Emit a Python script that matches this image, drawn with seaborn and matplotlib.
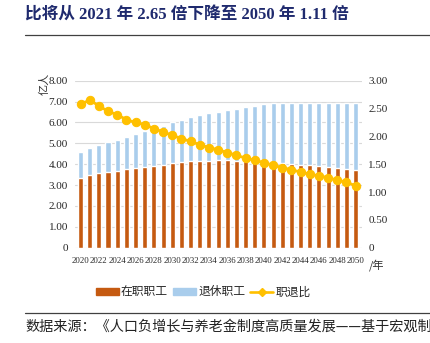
import numpy as np
import pandas as pd
import matplotlib
matplotlib.use("Agg")
import matplotlib.pyplot as plt
import seaborn as sns
from matplotlib.patches import Patch
from matplotlib.lines import Line2D

years = list(range(2020, 2051))
in_service = [3.32, 3.50, 3.56, 3.62, 3.68, 3.75, 3.81, 3.87, 3.93, 3.98, 4.04,
              4.11, 4.15, 4.16, 4.17, 4.18, 4.18, 4.16, 4.14, 4.10, 4.05,
              4.07, 4.04, 4.01, 3.98, 3.95, 3.91, 3.87, 3.82, 3.78, 3.70]
total = [4.58, 4.80, 4.91, 5.04, 5.18, 5.31, 5.47, 5.59, 5.72, 5.85, 6.00,
         6.13, 6.27, 6.36, 6.43, 6.51, 6.59, 6.66, 6.74, 6.80, 6.86,
         6.91, 6.94, 6.95, 6.95, 6.95, 6.95, 6.95, 6.95, 6.95, 6.95]
ratio = [2.58, 2.65, 2.55, 2.45, 2.39, 2.30, 2.25, 2.21, 2.14, 2.08, 2.02,
         1.96, 1.91, 1.85, 1.80, 1.76, 1.71, 1.66, 1.61, 1.57, 1.53,
         1.48, 1.44, 1.40, 1.36, 1.32, 1.29, 1.26, 1.21, 1.18, 1.11]
left_ticks = [0, 1, 2, 3, 4, 5, 6, 7, 8]
left_labels = ["0", "1.00", "2.00", "3.00", "4.00", "5.00", "6.00", "7.00", "8.00"]
right_ticks = [0, 0.5, 1.0, 1.5, 2.0, 2.5, 3.0]
right_labels = ["0", "0.50", "1.00", "1.50", "2.00", "2.50", "3.00"]
series_names = ["在职职工", "退休职工", "职退比"]
title = "比将从 2021 年 2.65 倍下降至 2050 年 1.11 倍"
source = "数据来源：《人口负增长与养老金制度高质量发展——基于宏观制"

df = pd.DataFrame({"year": years, "in_service": in_service, "total": total, "ratio": ratio})
df["pos"] = np.arange(len(df))

RED = "#C55A11"
BLUE = "#A9CDEC"
YEL = "#FFC000"
SERIF = ["Liberation Serif", "Noto Sans CJK SC"]
CJK = ["Noto Sans CJK SC", "DejaVu Sans"]

sns.set_style("white")
plt.rcParams["font.family"] = SERIF

fig = plt.figure(figsize=(4.31, 3.43), dpi=100)
W, H = 431, 343
ax = fig.add_axes([75 / W, 1 - 247.7 / H, (362 - 75) / W, (247.7 - 80.7) / H])

sns.barplot(data=df, x="year", y="total", color=BLUE, saturation=1, width=0.55, ax=ax, zorder=2)
sns.barplot(data=df, x="year", y="in_service", color=RED, saturation=1, width=0.55, ax=ax, zorder=3)

ax.set_ylim(0, 8)
ax.set_xlim(-0.6, len(df) - 0.3)
ax.set_yticks(left_ticks)
ax.set_yticklabels(left_labels, fontsize=8)
ax.set_xticks(df["pos"][::2])
ax.set_xticklabels([str(y) for y in years[::2]], fontsize=6.3)
ax.tick_params(axis="both", length=0)
ax.tick_params(axis="y", pad=5)
ax.tick_params(axis="x", pad=7)
ax.set_xlabel("")
ax.set_ylabel("")
ax.grid(axis="y", color="#D9D9D9", lw=0.8, zorder=0)
ax.set_axisbelow(True)
for s in ax.spines.values():
    s.set_visible(False)

ax2 = ax.twinx()
sns.lineplot(data=df, x="pos", y="ratio", ax=ax2, color=YEL, lw=2.0, marker="o",
             markersize=6, markeredgecolor=YEL, zorder=5)
ax2.set_ylim(0, 3)
ax2.set_yticks(right_ticks)
ax2.set_yticklabels(right_labels, fontsize=8)
ax2.tick_params(axis="y", length=0, pad=4.5)
ax2.set_ylabel("")
for s in ax2.spines.values():
    s.set_visible(False)

fig.text(44 / W, 1 - 84 / H, "亿人", rotation=90, fontsize=8, family=CJK, color="#333333",
         ha="center", va="center")
fig.text(369 / W, 1 - 265 / H, "/年", fontsize=8, family=CJK, color="#333333",
         ha="left", va="center")

handles = [Patch(color=RED), Patch(color=BLUE),
           Line2D([0], [0], color=YEL, lw=1.9, marker="D", markersize=4)]
fig.legend(handles, series_names, loc="center", bbox_to_anchor=(203 / W, 1 - 292 / H),
           ncol=3, frameon=False, prop={"family": CJK, "size": 8.5},
           handlelength=2.0, handleheight=0.5, handletextpad=0.15, columnspacing=0.4)

fig.text(25 / W, 1 - 16 / H, title, fontsize=12, fontweight="bold", color="#1F2A6E",
         family=SERIF, ha="left", va="center")
fig.add_artist(Line2D([25 / W, 1], [1 - 35 / H] * 2, color="#404040", lw=0.9))
fig.add_artist(Line2D([25 / W, 1], [1 - 313 / H] * 2, color="#404040", lw=0.9))
fig.text(25 / W, 1 - 327 / H, source, fontsize=10.2, color="#222222", family=CJK,
         ha="left", va="center")

fig.savefig("out.png", dpi=100)
